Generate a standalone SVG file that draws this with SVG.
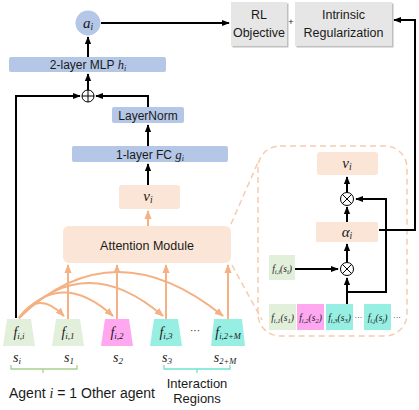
<svg xmlns="http://www.w3.org/2000/svg" width="419" height="410" viewBox="0 0 419 410">
<style>
.sans{font-family:"Liberation Sans",Arial,sans-serif;fill:#1a1a1a}
.math{font-family:"Liberation Serif","Times New Roman",serif;font-style:italic;fill:#1a1a1a}
.blue{fill:#b4c7e7}
.peach{fill:#fbe5d6}
.grey{fill:#e7e6e6}
.green{fill:#e2efda}
.pink{fill:#ffa8f0}
.teal{fill:#96efe2}
.blk{stroke:#000;stroke-width:2;fill:none}
.org{stroke:#f4b183;stroke-width:2;fill:none}
.dash{stroke:#f8cbad;stroke-width:1.5;fill:none;stroke-dasharray:6 4}
</style>
<defs>
<marker id="ab" viewBox="0 0 10 10" refX="9" refY="5" markerWidth="8" markerHeight="8" markerUnits="userSpaceOnUse" orient="auto"><path d="M0,1 L10,5 L0,9 z" fill="#000"/></marker>
<marker id="ao" viewBox="0 0 10 10" refX="9" refY="5" markerWidth="9" markerHeight="9" markerUnits="userSpaceOnUse" orient="auto"><path d="M0,1 L10,5 L0,9 z" fill="#f4b183"/></marker>
</defs>

<!-- dashed detail panel -->
<g id="panel">
<rect x="258" y="146" width="149" height="190" rx="22" class="dash"/>
<path d="M231,224 L259,160" class="dash"/>
<path d="M232,265 L262,320" class="dash"/>
</g>

<g id="connectors">
<!-- black -->
<path d="M88,57 V37" class="blk" marker-end="url(#ab)"/>
<path d="M88,90 V74" class="blk" marker-end="url(#ab)"/>
<path d="M16,318 V96 H80" class="blk" marker-end="url(#ab)"/>
<path d="M148,107 V96 H96" class="blk" marker-end="url(#ab)"/>
<path d="M148,146 V125" class="blk" marker-end="url(#ab)"/>
<path d="M148,185 V164" class="blk" marker-end="url(#ab)"/>
<path d="M101,23 H229" class="blk" marker-end="url(#ab)"/>
<path d="M379,230 H415 V20 H394" class="blk" marker-end="url(#ab)"/>
<path d="M347,192 V177" class="blk" marker-end="url(#ab)"/>
<path d="M347,222 V207" class="blk" marker-end="url(#ab)"/>
<path d="M347,262 V244" class="blk" marker-end="url(#ab)"/>
<path d="M295,269 H338" class="blk" marker-end="url(#ab)"/>
<path d="M347,304 V278" class="blk" marker-end="url(#ab)"/>
<path d="M347,292 H386 V199 H356" class="blk" marker-end="url(#ab)"/>
<!-- orange -->
<path d="M148,226 V211" class="org" marker-end="url(#ao)"/>
<path d="M68,319 V265" class="org" marker-end="url(#ao)"/>
<path d="M117,319 V265" class="org" marker-end="url(#ao)"/>
<path d="M166,319 V265" class="org" marker-end="url(#ao)"/>
<path d="M228,319 V265" class="org" marker-end="url(#ao)"/>
<path d="M19,318 Q38,289 64,316" class="org" marker-end="url(#ao)"/>
<path d="M19,318 Q60,268 113,316" class="org" marker-end="url(#ao)"/>
<path d="M19,318 Q85,249 163,316" class="org" marker-end="url(#ao)"/>
<path d="M19,318 Q113,227 223,316" class="org" marker-end="url(#ao)"/>
</g>

<g id="a_i"><circle cx="88" cy="23" r="12.5" class="blue"/><text x="88" y="28" text-anchor="middle" class="math" font-size="15">a<tspan font-size="9.5" dy="2">i</tspan></text></g>
<g id="mlp"><rect x="9" y="57" width="157" height="15" rx="2" class="blue"/><text x="88" y="69" text-anchor="middle" class="sans" font-size="12">2-layer MLP <tspan class="math" font-size="12.5">h</tspan><tspan class="math" font-size="8" dy="2">i</tspan></text></g>
<g id="plus"><circle cx="88" cy="96" r="6" fill="#fff" stroke="#000" stroke-width="1"/><path d="M82,96 H94 M88,90 V102" stroke="#000" stroke-width="1"/></g>
<g id="layernorm"><rect x="112" y="107" width="72" height="16" rx="2" class="blue"/><text x="148" y="119.5" text-anchor="middle" class="sans" font-size="12">LayerNorm</text></g>
<g id="fc"><rect x="72" y="146" width="156" height="16" rx="2" class="blue"/><text x="150" y="158.5" text-anchor="middle" class="sans" font-size="12">1-layer FC <tspan class="math" font-size="13">g</tspan><tspan class="math" font-size="8" dy="2">i</tspan></text></g>
<g id="v_i"><rect x="119" y="185" width="61" height="24" rx="3" class="peach"/><text x="148" y="201" text-anchor="middle" class="math" font-size="15">v<tspan font-size="9.5" dy="2">i</tspan></text></g>
<g id="attention"><rect x="63" y="226" width="168" height="37" rx="6" class="peach"/><text x="147" y="250" text-anchor="middle" class="sans" font-size="12.5">Attention Module</text></g>

<g id="rl"><rect x="232.5" y="3.5" width="56" height="44" fill="#bfbfbf"/><rect x="231" y="2" width="56" height="44" class="grey"/><text x="259" y="19" text-anchor="middle" class="sans" font-size="12.5">RL</text><text x="259" y="37" text-anchor="middle" class="sans" font-size="12.5">Objective</text></g>
<text x="291" y="25" text-anchor="middle" class="sans" font-size="9">+</text>
<g id="intrinsic"><rect x="296.5" y="3.5" width="97" height="44" fill="#bfbfbf"/><rect x="295" y="2" width="97" height="44" class="grey"/><text x="343.5" y="19" text-anchor="middle" class="sans" font-size="12.5">Intrinsic</text><text x="343.5" y="37" text-anchor="middle" class="sans" font-size="12.5">Regularization</text></g>

<!-- encoders -->
<g id="f_ii"><path d="M7,319 H31 L35,346 H3 Z" class="green"/><text x="19" y="337" text-anchor="middle" class="math" font-size="14">f<tspan font-size="9" dy="2">i,i</tspan></text></g>
<g id="f_i1"><path d="M56,319 H80 L84,346 H52 Z" class="green"/><text x="68" y="337" text-anchor="middle" class="math" font-size="14">f<tspan font-size="9" dy="2">i,1</tspan></text></g>
<g id="f_i2"><path d="M105,319 H129 L133,346 H101 Z" class="pink"/><text x="117" y="337" text-anchor="middle" class="math" font-size="14">f<tspan font-size="9" dy="2">i,2</tspan></text></g>
<g id="f_i3"><path d="M154,319 H178 L182,346 H150 Z" class="teal"/><text x="166" y="337" text-anchor="middle" class="math" font-size="14">f<tspan font-size="9" dy="2">i,3</tspan></text></g>
<text x="195" y="334" text-anchor="middle" class="sans" font-size="10">···</text>
<g id="f_i2M"><path d="M214,319 H242 L245,346 H211 Z" class="teal"/><text x="228" y="337" text-anchor="middle" class="math" font-size="14">f<tspan font-size="8.5" dy="2">i,2+M</tspan></text></g>

<g id="states">
<text x="17" y="362" text-anchor="middle" class="math" font-size="14">s<tspan font-size="9" dy="2">i</tspan></text>
<text x="69" y="362" text-anchor="middle" class="math" font-size="14">s<tspan font-size="9" dy="2">1</tspan></text>
<text x="118" y="362" text-anchor="middle" class="math" font-size="14">s<tspan font-size="9" dy="2">2</tspan></text>
<text x="167" y="362" text-anchor="middle" class="math" font-size="14">s<tspan font-size="9" dy="2">3</tspan></text>
<text x="225" y="362" text-anchor="middle" class="math" font-size="14">s<tspan font-size="8.5" dy="2">2+M</tspan></text>
</g>
<g id="brackets">
<path d="M11,365 V369 H77 V365 M43,369 V373" stroke="#a9d18e" stroke-width="1.3" fill="none"/>
<path d="M164,365 V369 H230 V365 M197,369 V373" stroke="#6fe3cf" stroke-width="1.3" fill="none"/>
</g>
<text x="9" y="398" class="sans" font-size="14">Agent <tspan class="math">i</tspan> = 1  Other agent</text>
<text x="197" y="388" text-anchor="middle" class="sans" font-size="13">Interaction</text>
<text x="197" y="403" text-anchor="middle" class="sans" font-size="13">Regions</text>

<!-- detail panel contents -->
<g id="v_i_detail"><rect x="317" y="152" width="61" height="23" rx="3" class="peach"/><text x="347" y="168" text-anchor="middle" class="math" font-size="15">v<tspan font-size="9.5" dy="2">i</tspan></text></g>
<g id="mul1"><circle cx="347" cy="199" r="6.5" fill="#fff" stroke="#000" stroke-width="1"/><path d="M342.4,194.4 L351.6,203.6 M351.6,194.4 L342.4,203.6" stroke="#000" stroke-width="1"/></g>
<g id="alpha"><rect x="316" y="222" width="62" height="20" class="peach"/><text x="347" y="237" text-anchor="middle" class="math" font-size="15">α<tspan font-size="9.5" dy="2">i</tspan></text></g>
<g id="mul2"><circle cx="347" cy="269" r="6.5" fill="#fff" stroke="#000" stroke-width="1"/><path d="M342.4,264.4 L351.6,273.6 M351.6,264.4 L342.4,273.6" stroke="#000" stroke-width="1"/></g>
<g id="fii_s"><rect x="269" y="255" width="26" height="25" class="green"/><text x="282" y="272" text-anchor="middle" class="math" font-size="9.5">f<tspan font-size="6.5" dy="1.5">i,i</tspan><tspan dy="-1.5">(s</tspan><tspan font-size="6.5" dy="1.5">i</tspan><tspan dy="-1.5">)</tspan></text></g>
<g id="fi1_s"><rect x="269" y="304" width="27" height="26" class="green"/><text x="282.5" y="321" text-anchor="middle" class="math" font-size="9.5">f<tspan font-size="6.5" dy="1.5">i,1</tspan><tspan dy="-1.5">(s</tspan><tspan font-size="6.5" dy="1.5">1</tspan><tspan dy="-1.5">)</tspan></text></g>
<g id="fi2_s"><rect x="297" y="304" width="27" height="26" class="pink"/><text x="310.5" y="321" text-anchor="middle" class="math" font-size="9.5">f<tspan font-size="6.5" dy="1.5">i,2</tspan><tspan dy="-1.5">(s</tspan><tspan font-size="6.5" dy="1.5">2</tspan><tspan dy="-1.5">)</tspan></text></g>
<g id="fi3_s"><rect x="326" y="304" width="27" height="26" class="teal"/><text x="339.5" y="321" text-anchor="middle" class="math" font-size="9.5">f<tspan font-size="6.5" dy="1.5">i,3</tspan><tspan dy="-1.5">(s</tspan><tspan font-size="6.5" dy="1.5">3</tspan><tspan dy="-1.5">)</tspan></text></g>
<text x="358.5" y="320" text-anchor="middle" class="sans" font-size="8">···</text>
<g id="fij_s"><rect x="364" y="304" width="27" height="26" class="teal"/><text x="377.5" y="321" text-anchor="middle" class="math" font-size="9.5">f<tspan font-size="6.5" dy="1.5">i,j</tspan><tspan dy="-1.5">(s</tspan><tspan font-size="6.5" dy="1.5">j</tspan><tspan dy="-1.5">)</tspan></text></g>
<text x="397" y="320" text-anchor="middle" class="sans" font-size="8">···</text>
</svg>
